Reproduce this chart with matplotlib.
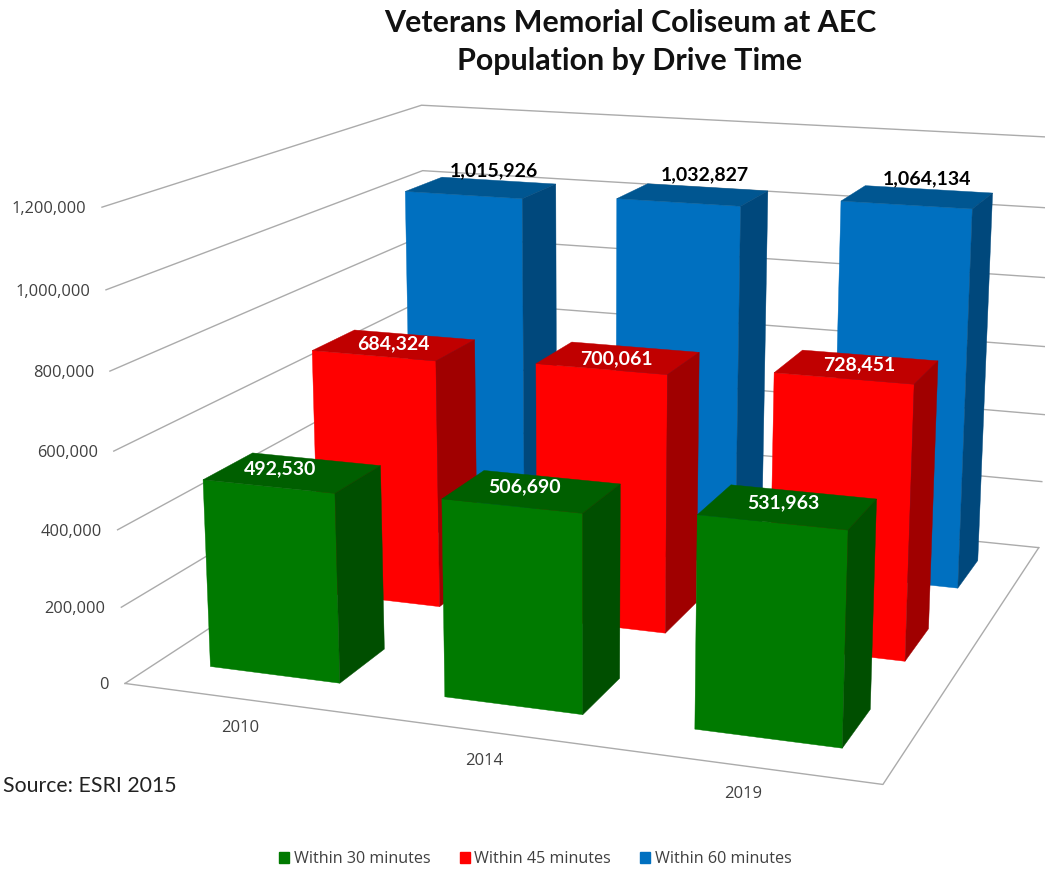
import numpy as np
import matplotlib
matplotlib.use('Agg')
import matplotlib.pyplot as plt
from matplotlib.patches import Polygon, Patch

years = ['2010', '2014', '2019']
within_30 = [492530, 506690, 531963]
within_45 = [684324, 700061, 728451]
within_60 = [1015926, 1032827, 1064134]
value_ticks = [0, 200000, 400000, 600000, 800000, 1000000, 1200000]
series_names = ['Within 30 minutes', 'Within 45 minutes', 'Within 60 minutes']

# front, top, side
green = ['#007A00', '#005F00', '#004F00']
red = ['#FF0000', '#C00000', '#A00000']
blue = ['#0070C0', '#005691', '#00487C']
grid_color = '#ABABAB'
text_color = '#404040'

bar_gap = 0.22
depth_gap = 0.2875

# camera for the 3d look: (category, series depth, value in millions) -> pixels
cam = np.array([[224.598, 138.662, -23.219, 125.003],
                [8.74782, -23.0897, -405.089, 683.459],
                [-0.0317598, 0.088246, -0.0395148, 1.0]])


def proj(x, d, val):
    q = cam @ np.array([x, d, val / 1e6, 1.0])
    return q[0] / q[2], q[1] / q[2]


def draw_bar(ax, i, j, val, colors):
    x0, x1 = i + bar_gap, i + 1 - bar_gap
    d0, d1 = j + depth_gap, j + 1 - depth_gap
    front = [proj(x0, d0, 0), proj(x1, d0, 0), proj(x1, d0, val), proj(x0, d0, val)]
    top = [proj(x0, d0, val), proj(x1, d0, val), proj(x1, d1, val), proj(x0, d1, val)]
    side = [proj(x1, d0, 0), proj(x1, d1, 0), proj(x1, d1, val), proj(x1, d0, val)]
    for face, c in zip([front, top, side], colors):
        ax.add_patch(Polygon(face, closed=True, facecolor=c, edgecolor=c, linewidth=0.3, zorder=3))


plt.rcParams['font.family'] = ['Lato', 'DejaVu Sans']

fig = plt.figure(figsize=(10.45, 8.69), dpi=100)
ax = fig.add_axes([0, 0, 1, 1])
ax.set_xlim(0, 1045)
ax.set_ylim(869, 0)
ax.axis('off')

# walls and floor
for v in value_ticks:
    pts = [proj(0, 0, v), proj(0, 3, v), proj(3, 3, v)]
    ax.plot(*zip(*pts), color=grid_color, lw=1.0, zorder=1)
    px, py = proj(0, 0, v)
    ax.text(px - 16, py + 2, f'{v:,}', ha='right', va='center', fontsize=11.8,
            color=text_color, family=['Open Sans', 'DejaVu Sans'])
ax.plot(*zip(proj(0, 0, 0), proj(3, 0, 0), proj(3, 3, 0)), color=grid_color, lw=1.0, zorder=1)

series = [(within_60, blue, 2, 'black'), (within_45, red, 1, 'white'), (within_30, green, 0, 'white')]
label_shift = {2: [(13, -17), (12, -20), (10, -18)],
               1: [(-1, -1), (-2, 1), (2, -2)],
               0: [(-13, -4), (-7, -5), (-4, -4)]}

for vals, colors, j, lab_color in series:
    for i, val in enumerate(vals):
        draw_bar(ax, i, j, val, colors)

for vals, colors, j, lab_color in series:
    for i, val in enumerate(vals):
        px, py = proj(i + 0.5, j + 0.5, val)
        dx, dy = label_shift[j][i]
        ax.text(px + dx, py + dy, f'{val:,}', ha='center', va='center', fontsize=14,
                fontweight='bold', color=lab_color, zorder=4)

year_shift = [(-1, 29), (-1, 30), (-3, 28)]
for i, y in enumerate(years):
    px, py = proj(i + 0.5, 0, 0)
    ax.text(px + year_shift[i][0], py + year_shift[i][1], y, ha='center', va='center',
            fontsize=12, color=text_color, family=['Open Sans', 'DejaVu Sans'])

ax.text(630, 23, 'Veterans Memorial Coliseum at AEC', ha='center', va='center',
        fontsize=21.9, fontweight='bold', color='#111111')
ax.text(630, 61, 'Population by Drive Time', ha='center', va='center',
        fontsize=21.9, fontweight='bold', color='#111111')
ax.text(3, 786, 'Source: ESRI 2015', ha='left', va='center', fontsize=15.3, color='#222222')

handles = [Patch(facecolor=c[0], edgecolor=c[0], label=n)
           for c, n in zip([green, red, blue], series_names)]
ax.legend(handles=handles, ncol=3, loc='center', bbox_to_anchor=(535.5 / 1045, 1 - 859 / 869),
          frameon=False, handlelength=0.62, handleheight=0.62, handletextpad=0.3,
          columnspacing=1.8, labelcolor=text_color, borderpad=0,
          prop={'family': ['Open Sans', 'DejaVu Sans'], 'size': 11.6})

fig.savefig('out.png', dpi=100)
